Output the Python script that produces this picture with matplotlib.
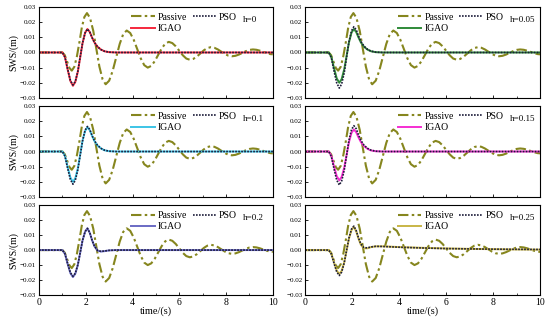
import matplotlib
matplotlib.use("Agg")
import matplotlib.pyplot as plt

plt.rcParams["font.family"] = ["Liberation Serif", "DejaVu Serif"]

# passive response (same in every panel)
t_passive = [0, 1.0, 1.1, 1.2, 1.3, 1.4, 1.51, 1.62, 1.73, 1.83, 1.94, 2.05,
             2.18, 2.32, 2.45, 2.58, 2.72, 2.85, 3.0, 3.15, 3.3, 3.45, 3.6, 3.75,
             3.9, 4.05, 4.2, 4.35, 4.5, 4.65, 4.8, 4.95, 5.1, 5.25, 5.4, 5.55,
             5.7, 5.85, 6.0, 6.15, 6.3, 6.45, 6.6, 6.75, 6.9, 7.05, 7.2, 7.35,
             7.5, 7.65, 7.8, 7.95, 8.1, 8.25, 8.4, 8.55, 8.7, 8.85, 9.0, 9.15,
             9.3, 9.45, 9.6, 9.75, 9.9, 10.0]
passive = [0, 0, -0.00176, -0.006, -0.0102, -0.012, -0.00945, -0.0025, 0.007, 0.0165, 0.02345, 0.026,
           0.02285, 0.01425, 0.0025, -0.00925, -0.01785, -0.021, -0.01862, -0.01213, -0.00325, 0.00563, 0.01212, 0.0145,
           0.01286, 0.00838, 0.00225, -0.00388, -0.00836, -0.010, -0.00886, -0.00575, -0.0015, 0.00275, 0.00586, 0.007,
           0.00621, 0.00405, 0.0011, -0.00185, -0.00401, -0.0048, -0.00424, -0.00273, -0.00065, 0.00143, 0.00294, 0.0035,
           0.0031, 0.002, 0.0005, -0.001, -0.0021, -0.0025, -0.0022, -0.00138, -0.00025, 0.00088, 0.0017, 0.002,
           0.00178, 0.00118, 0.00035, -0.00048, -0.00108, -0.0012]

# controlled responses (time grid shared)
t_ctrl = [0, 1.0, 1.11, 1.22, 1.34, 1.45, 1.55, 1.66, 1.76, 1.86, 1.97, 2.07,
          2.17, 2.27, 2.37, 2.5, 2.65, 2.8, 3.0, 3.3, 3.6, 4.0, 5, 6, 7, 8, 9, 10]

igao = {
    "h=0": [0, 0, -0.0032, -0.011, -0.0188, -0.022, -0.0195, -0.0126, -0.0032, 0.0061, 0.013, 0.0155,
            0.0135, 0.0098, 0.0066, 0.0038, 0.0019, 0.0008, 0.0002, 0, 0, 0, 0, 0, 0, 0, 0, 0],
    "h=0.05": [0, 0, -0.0029, -0.010, -0.0171, -0.020, -0.0176, -0.0111, -0.00225, 0.0066, 0.0131, 0.0155,
               0.0135, 0.0098, 0.0066, 0.0038, 0.0019, 0.0008, 0.0002, 0, 0, 0, 0, 0, 0, 0, 0, 0],
    "h=0.1": [0, 0, -0.0029, -0.010, -0.0171, -0.020, -0.0176, -0.011, -0.002, 0.007, 0.0136, 0.016,
              0.014, 0.0102, 0.0069, 0.004, 0.002, 0.0008, 0.0002, 0, 0, 0, 0, 0, 0, 0, 0, 0],
    "h=0.15": [0, 0, -0.0028, -0.0095, -0.0162, -0.019, -0.0167, -0.0106, -0.0023, 0.0061, 0.0123, 0.0145,
               0.0127, 0.0092, 0.0062, 0.0036, 0.0018, 0.0007, 0.0002, 0, 0, 0, 0, 0, 0, 0, 0, 0],
    "h=0.2": [0, 0, -0.0026, -0.009, -0.0154, -0.018, -0.0158, -0.0099, -0.0018, 0.0064, 0.0123, 0.0145,
              0.0115, 0.0065, 0.0025, -0.0003, -0.001, -0.0007, -0.0002, 0, 0, 0, 0, 0, 0, 0, 0, 0],
    "h=0.25": [0, 0, -0.0023, -0.008, -0.0137, -0.016, -0.0139, -0.0081, -0.0003, 0.0076, 0.0134, 0.0155,
               0.0125, 0.0075, 0.0035, 0.0012, 0.0012, 0.002, 0.0025, 0.0025, 0.0023, 0.002, 0.0015, 0.0011,
               0.0008, 0.0006, 0.0004, 0.0003],
}

pso = {
    "h=0": [0, 0, -0.0031, -0.0108, -0.0184, -0.0215, -0.0192, -0.0124, -0.003, 0.0062, 0.013, 0.0155,
            0.0135, 0.0098, 0.0066, 0.0038, 0.0019, 0.0008, 0.0002, 0, 0, 0, 0, 0, 0, 0, 0, 0],
    "h=0.05": [0, 0, -0.0034, -0.0118, -0.0201, -0.0235, -0.0208, -0.0134, -0.0033, 0.0069, 0.0143, 0.017,
               0.015, 0.0108, 0.0073, 0.0042, 0.0021, 0.0009, 0.0002, 0, 0, 0, 0, 0, 0, 0, 0, 0],
    "h=0.1": [0, 0, -0.0031, -0.0108, -0.0184, -0.0215, -0.019, -0.012, -0.0025, 0.007, 0.014, 0.0165,
              0.0145, 0.0105, 0.0071, 0.0041, 0.0021, 0.0009, 0.0002, 0, 0, 0, 0, 0, 0, 0, 0, 0],
    "h=0.15": [0, 0, -0.0032, -0.011, -0.0188, -0.022, -0.0194, -0.0123, -0.0025, 0.0073, 0.0144, 0.017,
               0.015, 0.0108, 0.0073, 0.0042, 0.0021, 0.0009, 0.0002, 0, 0, 0, 0, 0, 0, 0, 0, 0],
    "h=0.2": [0, 0, -0.0025, -0.0088, -0.015, -0.0175, -0.0155, -0.0097, -0.0017, 0.0064, 0.0123, 0.0145,
              0.0116, 0.0066, 0.0026, -0.0002, -0.0009, -0.0006, -0.0002, 0, 0, 0, 0, 0, 0, 0, 0, 0],
    "h=0.25": [0, 0, -0.0025, -0.0085, -0.0145, -0.017, -0.0147, -0.0085, -0.0002, 0.0080, 0.0140, 0.016,
               0.013, 0.008, 0.004, 0.0016, 0.0015, 0.0021, 0.0025, 0.0024, 0.0022, 0.0019, 0.0014, 0.001,
               0.0008, 0.0006, 0.0005, 0.0004],
}

panels = ["h=0", "h=0.05", "h=0.1", "h=0.15", "h=0.2", "h=0.25"]
igao_colors = ["#f5283c", "#2f8a38", "#3cc4e6", "#f52ed2", "#6a6ac4", "#c8b646"]

y_ticks = [-0.03, -0.02, -0.01, 0.00, 0.01, 0.02, 0.03]
x_ticks = [0, 2, 4, 6, 8, 10]

fig = plt.figure(figsize=(5.5, 3.2), dpi=100)

lefts = [0.071, 0.555]
widths = [0.425, 0.427]
rows = [(0.694, 0.284), (0.384, 0.285), (0.078, 0.281)]

for i, name in enumerate(panels):
    r, c = divmod(i, 2)
    bottom, height = rows[r]
    ax = fig.add_axes([lefts[c], bottom, widths[c], height])

    lp, = ax.plot(t_passive, passive, color="#86861e", lw=1.5,
                  dashes=(5, 1.6, 1.2, 1.6), label="Passive")
    li, = ax.plot(t_ctrl, igao[name], color=igao_colors[i], lw=1.4, label="IGAO")
    lo, = ax.plot(t_ctrl, pso[name], color="#1c1c3a", lw=1.2, ls=(0, (1, 0.8)), label="PSO")

    ax.set_xlim(0, 10)
    ax.set_ylim(-0.03, 0.03)
    ax.set_yticks(y_ticks)
    ax.set_yticklabels([f"{v:.2f}".replace("-", "\u2212") for v in y_ticks], fontsize=5)
    ax.set_xticks(x_ticks)
    ax.set_xticks([1, 3, 5, 7, 9], minor=True)
    ax.tick_params(direction="in", length=2.5, width=0.6, pad=2)
    ax.tick_params(which="minor", direction="in", length=1.5, width=0.5)
    if r == 2:
        ax.set_xticklabels([str(v) for v in x_ticks], fontsize=7)
        ax.set_xlabel("time/(s)", fontsize=7.5, labelpad=0)
    else:
        ax.set_xticklabels([])
    if c == 0:
        ax.set_ylabel("SWS/(m)", fontsize=7, labelpad=1)
    for s in ax.spines.values():
        s.set_linewidth(0.8)

    ax.legend(handles=[lp, li, lo], ncol=2, frameon=False, fontsize=7,
              loc="upper left", bbox_to_anchor=(0.37, 1.0), handlelength=2.4,
              handletextpad=0.3, columnspacing=0.6, labelspacing=0.25,
              borderaxespad=0.2)
    ax.text(0.87, 0.86, name, transform=ax.transAxes, fontsize=6.5, va="center")

fig.savefig("out.png", dpi=100)
